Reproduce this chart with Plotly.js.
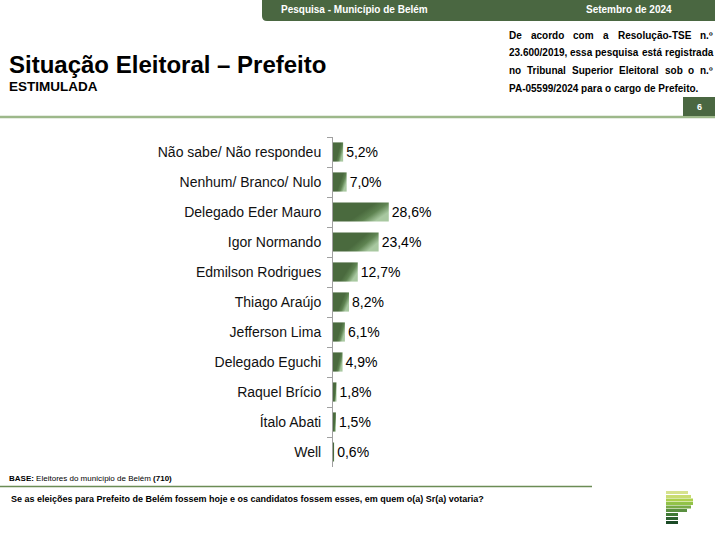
<!DOCTYPE html>
<html><head><meta charset="utf-8">
<script src="https://cdn.plot.ly/plotly-3.0.1.min.js"></script>
<style>html,body{margin:0;padding:0;background:#fff}#chart{width:715px;height:533px}</style>
</head><body><div id="chart"></div>
<script>
const categories = ["Não sabe/ Não respondeu","Nenhum/ Branco/ Nulo","Delegado Eder Mauro","Igor Normando","Edmilson Rodrigues","Thiago Araújo","Jefferson Lima","Delegado Eguchi","Raquel Brício","Ítalo Abati","Well"];
const values = [5.2,7.0,28.6,23.4,12.7,8.2,6.1,4.9,1.8,1.5,0.6];
const headerLeft = "Pesquisa - Município de Belém";
const headerRight = "Setembro de 2024";
const titleText = "Situação Eleitoral – Prefeito";
const subtitleText = "ESTIMULADA";
const noteLines = ["De acordo com a Resolução-TSE n.º","23.600/2019, essa pesquisa está registrada","no Tribunal Superior Eleitoral sob o n.º","PA-05599/2024 para o cargo de Prefeito."];
const pageNumber = "6";
const baseText = "<b>BASE:</b> Eleitores do município de Belém <b>(710)</b>";
const questionText = "Se as eleições para Prefeito de Belém fossem hoje e os candidatos fossem esses, em quem o(a) Sr(a) votaria?";

const W=715,H=533,M={l:333,r:75,t:137,b:66};
const pw=W-M.l-M.r, ph=H-M.t-M.b;
const px=x=>(x-M.l)/pw, py=y=>1-(y-M.t)/ph;
const FONT='"Liberation Sans", Arial, sans-serif';
const GREEN='#4a6741';

const ann=[];
function txt(t,x,y,size,opts={}){
  ann.push(Object.assign({text:t,xref:'paper',yref:'paper',x:px(x),y:py(y),xanchor:'left',yanchor:'middle',showarrow:false,borderpad:0,
    font:{family:FONT,size:size,color:opts.color||'#000'}},opts.extra||{}));
}
const cv=document.createElement('canvas').getContext('2d');
function justify(line,x0,x1,y,size){
  cv.font='bold '+size+'px "Liberation Sans", Arial';
  const words=line.split(' ');
  const ws=words.map(w=>cv.measureText(w).width);
  const tot=ws.reduce((a,b)=>a+b,0);
  const gap=(x1-x0-tot)/(words.length-1);
  let x=x0;
  words.forEach((w,i)=>{txt('<b>'+w+'</b>',x,y,size);x+=ws[i]+gap;});
}
// header
txt('<b>'+headerLeft+'</b>',280,9.5,10,{color:'#fff'});
txt('<b>'+headerRight+'</b>',585,9.5,10,{color:'#fff'});
// title
txt('<b>'+titleText+'</b>',8,64,24);
txt('<b>'+subtitleText+'</b>',8,86.5,13.5);
// note
const noteY=[35,52.7,70.7,88.3];
for(let i=0;i<3;i++) justify(noteLines[i],508,712,noteY[i],10);
txt('<b>'+noteLines[3]+'</b>',508,noteY[3],10);
txt('<b>'+pageNumber+'</b>',699,107,9,{color:'#fff',extra:{xanchor:'center'}});
// footer
txt(baseText,8,478,8);
txt('<b>'+questionText+'</b>',10,499,9);

const shapes=[];
function rect(x0,y0,x1,y1,color){
  shapes.push({type:'rect',xref:'paper',yref:'paper',x0:px(x0),x1:px(x1),y0:py(y1),y1:py(y0),fillcolor:color,line:{width:0},layer:'above'});
}
function hline(x0,x1,y,color,w){
  shapes.push({type:'line',xref:'paper',yref:'paper',x0:px(x0),x1:px(x1),y0:py(y),y1:py(y),line:{color:color,width:w}});
}
const r=5;
shapes.push({type:'path',xref:'paper',yref:'paper',fillcolor:GREEN,line:{width:0},
  path:`M ${px(262)} ${py(0)} L ${px(715)} ${py(0)} L ${px(715)} ${py(21)} L ${px(262+r)} ${py(21)} Q ${px(262)} ${py(21)} ${px(262)} ${py(21-r)} Z`});
hline(0,715,117,'#9db88a',2.5);
rect(683,97,715,116,GREEN);
hline(0,592,486.5,'#6b8c55',1.5);
const logo=[[491,688,'#d6e28e'],[495,691,'#c9dc72'],[498.5,693,'#acd04c'],[502,693,'#92c248'],[505.5,691,'#78aa46'],[509,687,'#5a9040'],[513,678,'#407a36'],[517,678,'#2e6230'],[521,678,'#1b4a26']];
logo.forEach(([y,x1,c])=>rect(666,y,x1,y+3,c));

const trace={type:'bar',orientation:'h',y:categories,x:values,
  marker:{color:'#4a6a3e',line:{width:0}},
  texttemplate:'%{x:.1f}%',textposition:'outside',cliponaxis:false,
  textfont:{family:FONT,size:14,color:'#000'},hoverinfo:'skip'};
const layout={width:W,height:H,margin:M,paper_bgcolor:'#fff',plot_bgcolor:'#fff',
  separators:',.',showlegend:false,bargap:0.36,
  font:{family:FONT},
  xaxis:{range:[0,157.4],visible:false,fixedrange:true},
  yaxis:{type:'category',autorange:'reversed',showline:true,linecolor:'#a0a0a0',linewidth:1,
    ticks:'outside',ticklen:5,tickcolor:'#a0a0a0',tickson:'boundaries',showgrid:false,
    ticklabelstandoff:8,tickfont:{family:FONT,size:14,color:'#111'},fixedrange:true},
  annotations:ann,shapes:shapes};
Plotly.newPlot('chart',[trace],layout,{staticPlot:true,displayModeBar:false}).then(gd=>{
  const svg=gd.querySelector('svg.main-svg');
  const NS='http://www.w3.org/2000/svg';
  let defs=svg.querySelector('defs');
  if(!defs){defs=document.createElementNS(NS,'defs');svg.insertBefore(defs,svg.firstChild);}
  const g=document.createElementNS(NS,'linearGradient');
  g.setAttribute('id','barGrad');g.setAttribute('x1','0');g.setAttribute('y1','0');g.setAttribute('x2','1');g.setAttribute('y2','0.5');
  [['0','#4a6a3e'],['0.62','#4a6a3e'],['0.8','#5f8452'],['1','#a8c8a0']].forEach(([o,c])=>{
    const s=document.createElementNS(NS,'stop');s.setAttribute('offset',o);s.setAttribute('stop-color',c);g.appendChild(s);});
  defs.appendChild(g);
  gd.querySelectorAll('.bars .point path').forEach(p=>{p.style.fill='url(#barGrad)';});
});
</script></body></html>
